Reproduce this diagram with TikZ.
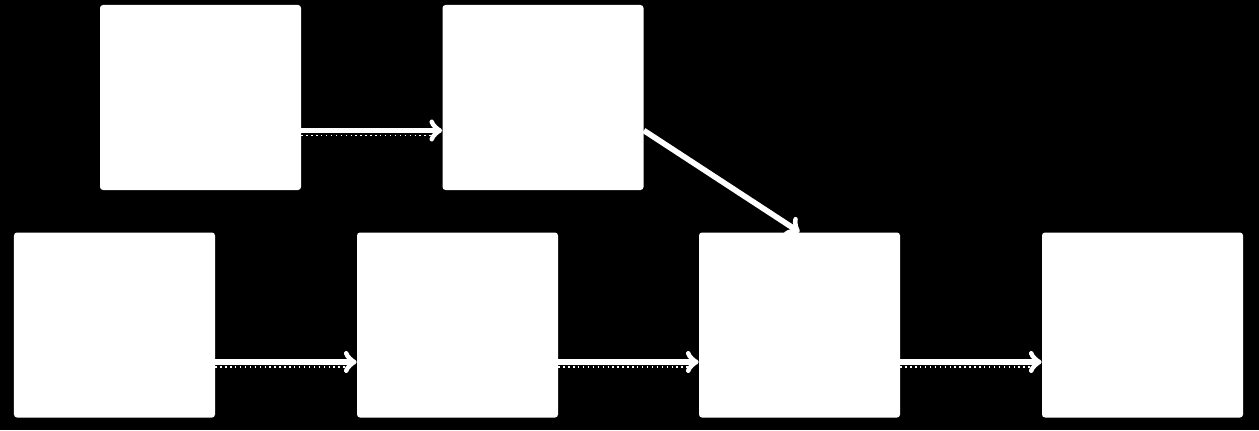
\documentclass[tikz,border=0pt]{standalone}
\usetikzlibrary{positioning}
\begin{document}
\begin{tikzpicture}[box/.style={rectangle,fill=white,rounded corners=0.06cm,
		minimum width=4.02cm,minimum height=3.7cm,inner sep=0pt},
		marrow/.style={->,white,line width=3.2pt},
		mshadow/.style={white,line width=0.8pt,dotted}]
	\fill[black] (0,0) rectangle (25.18,-8.6);
	\useasboundingbox (0,0) rectangle (25.18,-8.6);
	\node[box] (a) at (4.01,-1.95) {};
	\node[box] (b) at (10.86,-1.95) {};
	\node[box] (c) at (2.29,-6.5) {};
	\node[box] (d) at (9.15,-6.5) {};
	\node[box] (e) at (15.99,-6.5) {};
	\node[box] (f) at (22.85,-6.5) {};

	% shadow
	\draw [mshadow] ([yshift=-0.76cm]a.east) -- ([xshift=-0.1cm,yshift=-0.76cm]b.west);
	\draw [mshadow] ([yshift=-0.84cm]c.east) -- ([xshift=-0.1cm,yshift=-0.84cm]d.west);
	\draw [mshadow] ([yshift=-0.84cm]d.east) -- ([xshift=-0.1cm,yshift=-0.84cm]e.west);
	\draw [mshadow] ([yshift=-0.84cm]e.east) -- ([xshift=-0.1cm,yshift=-0.84cm]f.west);

	% connection
	\draw [marrow] ([yshift=-0.66cm]a.east) -- ([yshift=-0.66cm]b.west);
	\draw [marrow] ([yshift=-0.66cm]b.east) -- (e.north);
	\draw [marrow] ([yshift=-0.74cm]c.east) -- ([yshift=-0.74cm]d.west);
	\draw [marrow] ([yshift=-0.74cm]d.east) -- ([yshift=-0.74cm]e.west);
	\draw [marrow] ([yshift=-0.74cm]e.east) -- ([yshift=-0.74cm]f.west);
\end{tikzpicture}
\end{document}
